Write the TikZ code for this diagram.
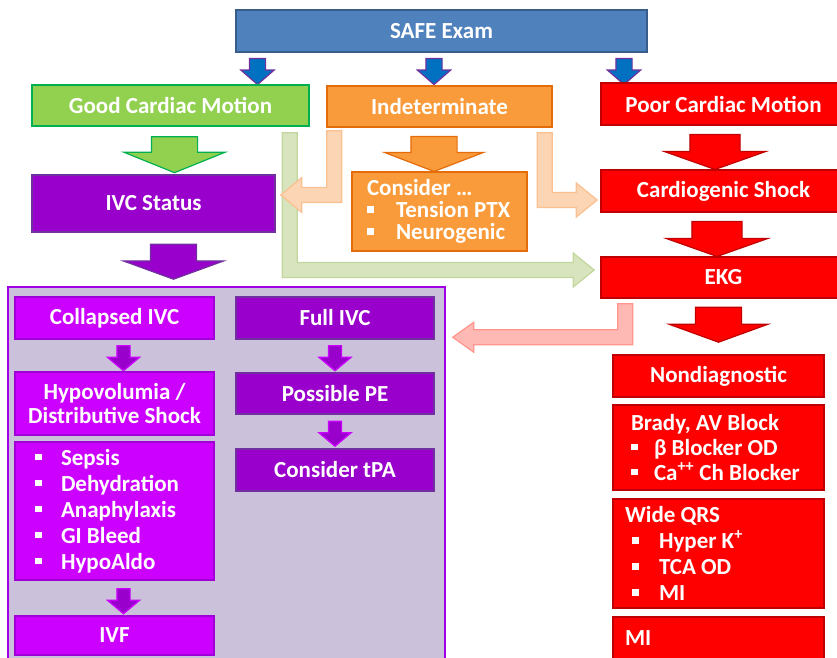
\documentclass[tikz,border=0pt]{standalone}
\usepackage{fontspec}
\setmainfont{Carlito}
\usetikzlibrary{shapes.arrows, calc}

\definecolor{safefill}{HTML}{4F81BD}
\definecolor{safeline}{HTML}{385D8A}
\definecolor{tipfill}{HTML}{0070C0}
\definecolor{tipline}{HTML}{7030A0}
\definecolor{goodfill}{HTML}{92D050}
\definecolor{goodline}{HTML}{00B050}
\definecolor{indfill}{HTML}{F99B3A}
\definecolor{indline}{HTML}{E46C0A}
\definecolor{poorfill}{HTML}{FF0000}
\definecolor{poorline}{HTML}{C00000}
\definecolor{ivcfill}{HTML}{9900CC}
\definecolor{ivcline}{HTML}{7030A0}
\definecolor{colfill}{HTML}{CC00FF}
\definecolor{colline}{HTML}{A000D8}
\definecolor{panelfill}{HTML}{CCC1DA}
\definecolor{panelline}{HTML}{A000E6}
\definecolor{lgreen}{HTML}{D7E4BD}
\definecolor{lgreenline}{HTML}{C3D69B}
\definecolor{lorange}{HTML}{FCD5B4}
\definecolor{lorangeline}{HTML}{FAC090}
\definecolor{lred}{HTML}{FFB9B4}
\definecolor{lredline}{HTML}{FF958C}

\newcommand{\bul}[1][26pt]{\makebox[#1][l]{\rule[5pt]{6.5pt}{6.5pt}}}
% elbow block arrow: style, start, tip, direction (1 right, -1 left), head half height
\newcommand{\elbow}[5]{%
  \filldraw[line width=1.2pt, #1] let \p1=#2, \p2=#3 in
    ({\x1+(#4)*7.5pt},\y1) -- ({\x1+(#4)*7.5pt},{\y2+7.5pt})
    -- ({\x2-(#4)*21pt},{\y2+7.5pt}) -- ({\x2-(#4)*21pt},{\y2+#5})
    -- (\x2,\y2) -- ({\x2-(#4)*21pt},{\y2-#5}) -- ({\x2-(#4)*21pt},{\y2-7.5pt})
    -- ({\x1-(#4)*7.5pt},{\y2-7.5pt}) -- ({\x1-(#4)*7.5pt},\y1) -- cycle;}

\tikzset{
  box/.style={draw, line width=1.5pt, text=white, inner sep=0pt, align=center,
    font=\bfseries\fontsize{23}{26}\selectfont},
  listbox/.style={box, align=left, execute at begin node={\frenchspacing\spaceskip=0pt\xspaceskip=0pt}},
  blk/.style n args={4}{single arrow, draw, line width=1.2pt, inner xsep=0pt, inner ysep=#2, rotate=-90,
    minimum height=#1, single arrow head extend=#3, single arrow tip angle=#4},
  tipblk/.style={blk={26pt}{7.5pt}{8.5pt}{98}, fill=tipfill, draw=tipline},
  smallblk/.style={blk={25pt}{6pt}{9.5pt}{100}, fill=ivcfill, draw=colfill},
}

\begin{document}
\begin{tikzpicture}[x=1pt, y=-1pt]
  \useasboundingbox (0,0) rectangle (837,657);
  \clip (0,0) rectangle (837,657);

  % top row
  \node[box, fill=safefill, draw=safeline, minimum width=411pt, minimum height=42pt] (safe) at (441.5,31) {SAFE Exam};
  \node[tipblk] (tipa) at (257.5,68) {};
  \node[tipblk] (tipb) at (434,68) {};
  \node[tipblk] (tipc) at (624,68) {};
  \node[box, fill=goodfill, draw=goodline, minimum width=277pt, minimum height=41pt] (good) at (170.5,105.5) {Good Cardiac Motion};
  \node[box, fill=indfill, draw=indline, minimum width=225pt, minimum height=41pt] (indet) at (439.5,106.5) {Indeterminate};
  \node[box, fill=poorfill, draw=poorline, minimum width=245pt, minimum height=42pt] (poor) at (723.5,104) {Poor Cardiac Motion};

  % second row
  \node[blk={36pt}{22.5pt}{27.5pt}{136}, fill=goodfill, draw=goodline] (goodarrow) at (174.5,150) {};
  \node[blk={35pt}{22.5pt}{26.5pt}{138}, fill=indfill, draw=indline] (indarrow) at (434,149.5) {};
  \node[blk={35pt}{24.5pt}{25.5pt}{141}, fill=poorfill, draw=poorline] (poorarrow) at (715,147.5) {};
  \node[box, fill=ivcfill, draw=ivcline, minimum width=243pt, minimum height=57pt] (ivc) at (153.5,203.5) {IVC Status};
  \node[listbox, fill=indfill, draw=indline, text width=145pt, inner xsep=15pt, minimum height=79pt,
    font=\bfseries\fontsize{23}{22}\selectfont] (consider) at (439.5,211.5) {Consider …\\\bul[29pt]Tension PTX\\\bul[29pt]Neurogenic};
  \node[box, fill=poorfill, draw=poorline, minimum width=245pt, minimum height=42pt] (cardio) at (723.5,191) {Cardiogenic Shock};
  \node[blk={35pt}{24.5pt}{25.5pt}{141}, fill=poorfill, draw=poorline] (cardioarrow) at (717,234.5) {};
  \node[box, fill=poorfill, draw=poorline, minimum width=245pt, minimum height=41pt] (ekg) at (723.5,277.5) {EKG};
  \node[blk={35pt}{22.5pt}{27pt}{140}, fill=ivcfill, draw=ivcline] (ivcarrow) at (173.5,257.5) {};
  \node[blk={35pt}{22.5pt}{26pt}{140}, fill=poorfill, draw=poorline] (ekgarrow) at (718.5,320.5) {};

  % IVC panel
  \node[box, fill=panelfill, draw=panelline, minimum width=437pt, minimum height=383pt] (panel) at (226.5,478.5) {};
  \node[box, fill=colfill, draw=colline, minimum width=199pt, minimum height=42pt] (collapsed) at (114.5,318) {Collapsed IVC};
  \node[smallblk] (colarrow) at (123.5,355.5) {};
  \node[box, fill=colfill, draw=colline, minimum width=199pt, minimum height=63pt,
    font=\bfseries\fontsize{23}{24}\selectfont] (hypo) at (114.5,403.5) {Hypovolumia /\\Distributive Shock};
  \node[listbox, fill=colfill, draw=colline, text width=159pt, inner xsep=20pt, minimum height=138pt] (causes) at (114.5,511)
    {\bul Sepsis\\\bul Dehydration\\\bul Anaphylaxis\\\bul GI Bleed\\\bul HypoAldo};
  \node[smallblk] (causesarrow) at (123.5,598.5) {};
  \node[box, fill=colfill, draw=colline, minimum width=199pt, minimum height=39pt] (ivf) at (114.5,635.5) {IVF};
  \node[box, fill=ivcfill, draw=ivcline, minimum width=198pt, minimum height=42pt] (full) at (335,318) {Full IVC};
  \node[smallblk] (fullarrow) at (335,355.5) {};
  \node[box, fill=ivcfill, draw=ivcline, minimum width=198pt, minimum height=41pt] (pe) at (335,393.5) {Possible PE};
  \node[smallblk] (pearrow) at (335,431) {};
  \node[box, fill=ivcfill, draw=ivcline, minimum width=198pt, minimum height=42pt] (tpa) at (335,470) {Consider tPA};

  % EKG column
  \node[box, fill=poorfill, draw=poorline, minimum width=211pt, minimum height=42pt] (nondiag) at (718.5,376) {Nondiagnostic};
  \node[listbox, fill=poorfill, draw=poorline, text width=175pt, inner xsep=18pt, minimum height=85pt,
    font=\bfseries\fontsize{23}{25}\selectfont] (brady) at (718.5,447.5)
    {Brady, AV Block\\\bul[23pt]β Blocker OD\\\bul[23pt]Ca\textsuperscript{++} Ch Blocker};
  \node[listbox, fill=poorfill, draw=poorline, text width=187pt, inner xsep=12pt, minimum height=109pt] (wide) at (718.5,553.5)
    {Wide QRS\\\hspace*{7pt}\bul[27pt]Hyper K\textsuperscript{+}\\\hspace*{7pt}\bul[27pt]TCA OD\\\hspace*{7pt}\bul[27pt]MI};
  \node[listbox, fill=poorfill, draw=poorline, text width=187pt, inner xsep=12pt, minimum height=43pt] (mi) at (718.5,638.5) {MI};

  % elbow connectors
  \elbow{fill=lgreen, draw=lgreenline}{($(good.south east)+(-20,6)$)}{($(ekg.west)+(-6,-7.5)$)}{1}{17pt}
  \elbow{fill=lorange, draw=lorangeline}{($(indet.south west)+(8,3)$)}{($(ivc.east)+(5,-8.5)$)}{-1}{17.5pt}
  \elbow{fill=lorange, draw=lorangeline}{($(indet.south east)+(-8,5)$)}{($(cardio.west)+(-3,9)$)}{1}{17pt}
  \elbow{fill=lred, draw=lredline}{($(ekg.south west)+(25,5)$)}{($(panel.north east)+(7,51)$)}{-1}{15pt}
\end{tikzpicture}
\end{document}
